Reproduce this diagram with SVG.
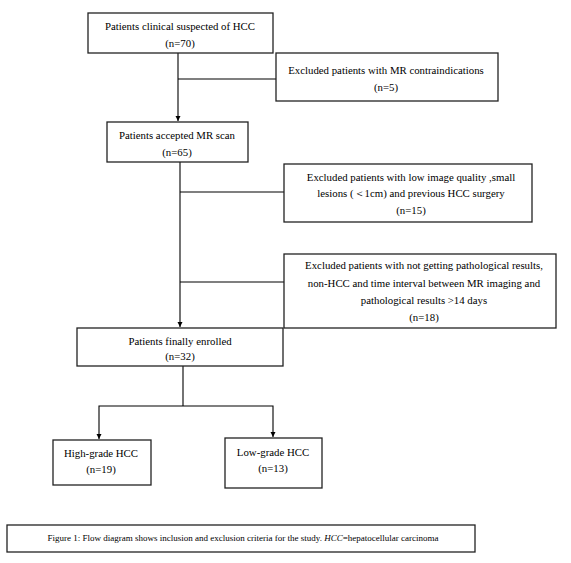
<svg xmlns="http://www.w3.org/2000/svg" width="571" height="563" viewBox="0 0 571 563">
<defs>
<marker id="arr" viewBox="0 0 10 10" refX="10" refY="5" markerWidth="5" markerHeight="6" markerUnits="userSpaceOnUse" orient="auto">
<path d="M0,0 L10,5 L0,10 z" fill="#000"/>
</marker>
<style>
.box{fill:#fff;stroke:#222;stroke-width:1.3}
.t{font-family:"Liberation Serif","Times New Roman",serif;font-size:10.8px;fill:#000;text-anchor:middle}
.c{font-family:"Liberation Serif","Times New Roman",serif;font-size:9px;fill:#000;text-anchor:middle}
.ln{fill:none;stroke:#000;stroke-width:1.1}
</style>
</defs>
<rect width="571" height="563" fill="#fff"/>
<g id="connectors">
<line class="ln" x1="178" y1="53" x2="178" y2="121" marker-end="url(#arr)"/>
<line class="ln" x1="178" y1="79" x2="276" y2="79"/>
<line class="ln" x1="180" y1="162" x2="180" y2="327" marker-end="url(#arr)"/>
<line class="ln" x1="180" y1="192" x2="284" y2="192"/>
<line class="ln" x1="180" y1="282" x2="284" y2="282"/>
<line class="ln" x1="183" y1="366" x2="183" y2="406"/>
<polyline class="ln" points="183,406 99,406 99,439" marker-end="url(#arr)"/>
<polyline class="ln" points="183,406 273,406 273,437" marker-end="url(#arr)"/>
</g>
<g id="n1">
<rect class="box" x="88" y="13" width="185" height="40"/>
<text class="t" x="180" y="30">Patients clinical suspected of HCC</text>
<text class="t" x="180" y="47">(n=70)</text>
</g>
<g id="n2">
<rect class="box" x="276" y="53" width="222" height="48"/>
<text class="t" x="386" y="74">Excluded patients with MR contraindications</text>
<text class="t" x="386" y="91">(n=5)</text>
</g>
<g id="n3">
<rect class="box" x="107" y="122" width="141" height="40"/>
<text class="t" x="177" y="139">Patients accepted MR scan</text>
<text class="t" x="177" y="156">(n=65)</text>
</g>
<g id="n4">
<rect class="box" x="284" y="164" width="248" height="58"/>
<text class="t" x="411" y="181">Excluded patients with low image quality ,small</text>
<text class="t" x="411" y="197">lesions (＜1cm) and previous HCC surgery</text>
<text class="t" x="411" y="214">(n=15)</text>
</g>
<g id="n5">
<rect class="box" x="284" y="254" width="272" height="74"/>
<text class="t" x="424" y="269">Excluded patients with not getting pathological results,</text>
<text class="t" x="424" y="287">non-HCC and time interval between MR imaging and</text>
<text class="t" x="424" y="304">pathological results &gt;14 days</text>
<text class="t" x="424" y="321">(n=18)</text>
</g>
<g id="n6">
<rect class="box" x="77" y="328" width="206" height="38"/>
<text class="t" x="180" y="345">Patients finally enrolled</text>
<text class="t" x="180" y="360">(n=32)</text>
</g>
<g id="n7">
<rect class="box" x="53" y="440" width="98" height="45"/>
<text class="t" x="101" y="457">High-grade HCC</text>
<text class="t" x="101" y="473">(n=19)</text>
</g>
<g id="n8">
<rect class="box" x="225" y="438" width="97" height="50"/>
<text class="t" x="273" y="456">Low-grade HCC</text>
<text class="t" x="273" y="472">(n=13)</text>
</g>
<g id="caption">
<rect class="box" x="7" y="525" width="468" height="27"/>
<text class="c" x="243" y="541">Figure 1: Flow diagram shows inclusion and exclusion criteria for the study. <tspan font-style="italic">HCC</tspan>=hepatocellular carcinoma</text>
</g>
</svg>
